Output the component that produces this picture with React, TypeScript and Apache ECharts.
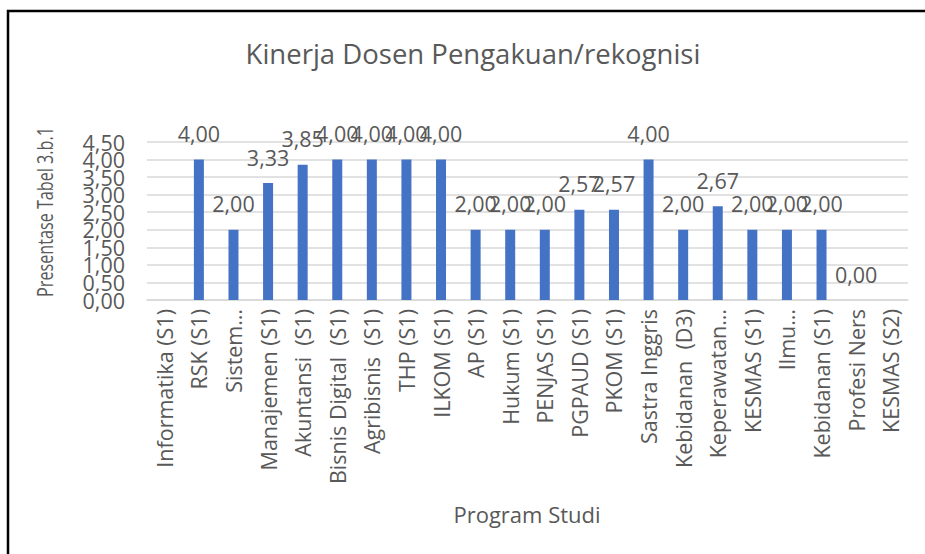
import React, { useEffect, useRef } from "react";
import * as echarts from "echarts";

const chartTitle = "Kinerja Dosen Pengakuan/rekognisi";
const yAxisTitle = "Presentase Tabel 3.b.1";
const xAxisTitle = "Program Studi";

const categories = [
  "Informatika (S1)",
  "RSK (S1)",
  "Sistem…",
  "Manajemen (S1)",
  "Akuntansi  (S1)",
  "Bisnis Digital  (S1)",
  "Agribisnis  (S1)",
  "THP (S1)",
  "ILKOM (S1)",
  "AP (S1)",
  "Hukum (S1)",
  "PENJAS (S1)",
  "PGPAUD (S1)",
  "PKOM (S1)",
  "Sastra Inggris",
  "Kebidanan  (D3)",
  "Keperawatan…",
  "KESMAS (S1)",
  "Ilmu…",
  "Kebidanan (S1)",
  "Profesi Ners",
  "KESMAS (S2)",
];

const values: (number | null)[] = [
  null, 4.0, 2.0, 3.33, 3.85, 4.0, 4.0, 4.0, 4.0, 2.0, 2.0, 2.0, 2.57, 2.57,
  4.0, 2.0, 2.67, 2.0, 2.0, 2.0, 0.0, null,
];

const yMin = 0;
const yMax = 4.5;
const yInterval = 0.5;

const FONT = "'Open Sans', 'Noto Sans', sans-serif";
const TEXT = "#595959";

const fmt = (v: number) => v.toFixed(2).replace(".", ",");
const isWhole = (v: number) => Math.abs(v - Math.round(v)) < 1e-9;

const tickLabel = {
  margin: 22,
  color: TEXT,
  fontSize: 21.5,
  fontFamily: FONT,
};

export default function App() {
  const ref = useRef<HTMLDivElement>(null);
  useEffect(() => {
    if (!ref.current) return;
    const chart = echarts.init(ref.current, undefined, { renderer: "svg" });
    chart.setOption({
      animation: false,
      backgroundColor: "#ffffff",
      textStyle: { fontFamily: FONT },
      grid: { left: 147, right: 17, top: 142, bottom: 254, containLabel: false },
      xAxis: {
        type: "category",
        data: categories,
        axisLine: { show: true, lineStyle: { color: "#d9d9d9", width: 1.5 } },
        axisTick: { show: false },
        axisLabel: {
          interval: 0,
          rotate: 90,
          margin: 9,
          color: TEXT,
          fontSize: 21.5,
          fontFamily: FONT,
        },
      },
      yAxis: [
        {
          type: "value",
          position: "left",
          min: yMin,
          max: yMax,
          interval: yInterval,
          axisLine: { show: false },
          axisTick: { show: false },
          splitLine: { lineStyle: { color: "#d9d9d9", width: 1.5 } },
          axisLabel: {
            ...tickLabel,
            showMinLabel: true,
            showMaxLabel: false,
            formatter: (v: number) => (isWhole(v) ? fmt(v) : ""),
          },
        },
        {
          type: "value",
          position: "left",
          offset: 0,
          min: yMin,
          max: yMax,
          interval: yInterval,
          axisLine: { show: false },
          axisTick: { show: false },
          splitLine: { show: false },
          axisLabel: {
            ...tickLabel,
            showMinLabel: false,
            showMaxLabel: true,
            formatter: (v: number) => (isWhole(v) ? "" : fmt(v)),
          },
        },
      ],
      series: [
        {
          type: "bar",
          data: values,
          yAxisIndex: 0,
          barWidth: 10,
          itemStyle: { color: "#4472C4" },
          label: {
            show: true,
            position: "top",
            distance: 15,
            color: TEXT,
            fontSize: 21.5,
            fontFamily: FONT,
            formatter: (p: any) => (p.value == null ? "" : fmt(p.value)),
          },
        },
      ],
      graphic: [
        {
          type: "rect",
          shape: { x: 8, y: 11, width: 960, height: 600 },
          style: { fill: "none", stroke: "#000000", lineWidth: 2.5 },
          z: 100,
        },
        {
          type: "text",
          x: 473,
          y: 53,
          style: {
            text: chartTitle,
            fill: TEXT,
            font: `27.5px ${FONT}`,
            align: "center",
            verticalAlign: "middle",
          },
        },
        {
          type: "text",
          x: 45,
          y: 212,
          rotation: Math.PI / 2,
          scaleX: 0.77,
          style: {
            text: yAxisTitle,
            fill: TEXT,
            font: `21px ${FONT}`,
            align: "center",
            verticalAlign: "middle",
          },
        },
        {
          type: "text",
          x: 527,
          y: 514,
          style: {
            text: xAxisTitle,
            fill: TEXT,
            font: `22px ${FONT}`,
            align: "center",
            verticalAlign: "middle",
          },
        },
      ],
    });
    return () => chart.dispose();
  }, []);
  return (
    <div
      ref={ref}
      style={{ position: "fixed", left: 0, top: 0, width: 925, height: 554 }}
    />
  );
}
